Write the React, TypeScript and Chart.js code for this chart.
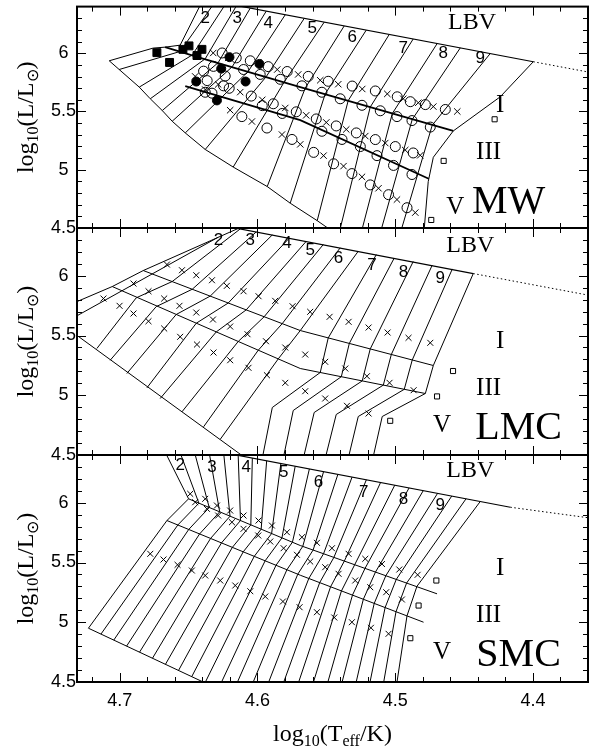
import React, { useEffect, useRef } from "react";
import { Chart, registerables } from "chart.js";

Chart.register(...registerables);

type Pt = [number, number];

// ---------------- axes ----------------
const X_MIN = 4.36;
const X_MAX = 4.731;
const Y_MIN = 4.5;
const Y_MAX = 6.4;
const xTickValues = [4.4, 4.5, 4.6, 4.7];
const xMinorValues = [4.38, 4.42, 4.44, 4.46, 4.48, 4.52, 4.54, 4.56, 4.58, 4.62, 4.64, 4.66, 4.68, 4.72];
const yTickValues = [4.5, 5, 5.5, 6];
const yMinorValues = [4.6, 4.7, 4.8, 4.9, 5.1, 5.2, 5.3, 5.4, 5.6, 5.7, 5.8, 5.9, 6.1, 6.2, 6.3];

const subtypeLabels = ["2", "3", "4", "5", "6", "7", "8", "9"];
const regionLabels = ["LBV", "I", "III", "V"];
const galaxyNames = ["MW", "LMC", "SMC"];

// ---------------- MW ----------------
const mwBoundary: Pt[][] = [
  [[4.7076, 5.935], [4.6757, 6.044], [4.667, 6.052], [4.6561, 6.069], [4.6401, 6.446]],
  [[4.7076, 5.935], [4.6858, 5.709], [4.6778, 5.609], [4.6691, 5.508], [4.6619, 5.416], [4.6524, 5.316], [4.6379, 5.174], [4.6176, 5.023], [4.5929, 4.856], [4.5762, 4.713], [4.5566, 4.563], [4.5362, 4.395]],
  [[4.3997, 5.927], [4.4237, 5.626], [4.4578, 5.333], [4.4723, 5.107], [4.476, 4.898], [4.4796, 4.395]],
];
const mwLbv: Pt[] = [[4.627, 6.436], [4.3997, 5.927]];
const mwLbvExt: Pt[] = [[4.3997, 5.927], [4.3583, 5.835]];
const mwClassLines: Pt[][] = [
  [[4.667, 6.052], [4.6415, 5.96], [4.5689, 5.709], [4.4578, 5.333]],
  [[4.6524, 5.718], [4.5689, 5.425], [4.4756, 4.923]],
];
const mwIsoLines: Pt[][] = [
  [[4.7004, 5.86], [4.6561, 6.015], [4.6304, 6.446]],
  [[4.6858, 5.709], [4.6473, 5.985], [4.6218, 6.446]],
  [[4.6778, 5.609], [4.6379, 5.952], [4.6133, 6.446]],
  [[4.6691, 5.508], [4.6285, 5.919], [4.6052, 6.387]],
  [[4.6619, 5.416], [4.6183, 5.884], [4.5936, 6.361]],
  [[4.6524, 5.316], [4.6067, 5.844], [4.5798, 6.33]],
  [[4.6379, 5.174], [4.5936, 5.799], [4.566, 6.299]],
  [[4.6176, 5.023], [4.5805, 5.754], [4.5515, 6.267]],
  [[4.5929, 4.856], [4.5653, 5.701], [4.537, 6.234]],
  [[4.5762, 4.713], [4.5508, 5.651], [4.521, 6.198]],
  [[4.5566, 4.563], [4.5341, 5.593], [4.5043, 6.161]],
  [[4.542, 4.395], [4.5181, 5.538], [4.4869, 6.122]],
  [[4.5261, 4.395], [4.5021, 5.482], [4.4695, 6.083]],
  [[4.5123, 4.395], [4.4876, 5.432], [4.4527, 6.046]],
  [[4.4978, 4.395], [4.4731, 5.382], [4.431, 5.997]],
];
const mwCrosses: Pt[] = [
  [4.6321, 6.002], [4.6212, 5.96], [4.5994, 5.918], [4.5856, 5.86], [4.5704, 5.818], [4.5544, 5.768], [4.5413, 5.734], [4.5239, 5.693], [4.5057, 5.651], [4.4941, 5.609], [4.4832, 5.575], [4.4723, 5.542], [4.4549, 5.5],
  [4.6452, 5.801], [4.6285, 5.732], [4.6125, 5.666], [4.5965, 5.6], [4.5798, 5.53], [4.5646, 5.467], [4.55, 5.406], [4.5355, 5.346], [4.5217, 5.289], [4.5072, 5.229], [4.4927, 5.169], [4.4818, 5.124],
  [4.6379, 5.688], [4.6198, 5.511], [4.604, 5.414], [4.5822, 5.302], [4.5689, 5.218], [4.552, 5.121], [4.5375, 5.031], [4.5241, 4.939], [4.5121, 4.841], [4.4987, 4.744], [4.4854, 4.632],
];
const mwOpenCircles: Pt[] = [
  [4.6256, 6.002], [4.6154, 5.96], [4.6052, 5.935], [4.5922, 5.885], [4.5784, 5.843], [4.5631, 5.801], [4.5486, 5.759], [4.5312, 5.718], [4.5144, 5.676], [4.4985, 5.626], [4.489, 5.584], [4.4781, 5.559], [4.4636, 5.517],
  [4.6365, 5.765], [4.6205, 5.699], [4.6045, 5.632], [4.5885, 5.566], [4.5718, 5.497], [4.5573, 5.436], [4.5428, 5.376], [4.5282, 5.316], [4.5144, 5.259], [4.4999, 5.199], [4.4869, 5.144],
  [4.633, 5.657], [4.6113, 5.456], [4.5931, 5.358], [4.5749, 5.26], [4.5592, 5.149], [4.5447, 5.051], [4.5314, 4.967], [4.5181, 4.87], [4.5048, 4.786], [4.4914, 4.674],
  [4.598, 5.818], [4.5834, 5.776], [4.5677, 5.72], [4.5532, 5.665], [4.5399, 5.609], [4.5241, 5.553], [4.5108, 5.506], [4.4987, 5.456], [4.4878, 5.422], [4.4745, 5.366],
  [4.5532, 5.33], [4.5386, 5.26], [4.5253, 5.199], [4.5132, 5.121], [4.5012, 5.037], [4.4878, 4.959], [4.582, 5.483], [4.5965, 5.55],
  [4.6391, 5.846], [4.6319, 5.887], [4.6234, 5.804], [4.6101, 5.86], [4.6379, 5.665], [4.6246, 5.72],
];
const mwFilledSquares: Pt[] = [[4.673, 6.005], [4.6638, 5.921], [4.6541, 6.033], [4.6497, 6.063], [4.6439, 5.98], [4.6403, 6.033]];
const mwFilledCircles: Pt[] = [[4.6203, 5.966], [4.6263, 5.868], [4.5985, 5.908], [4.6444, 5.757], [4.6086, 5.757], [4.6294, 5.595]];
const mwOpenSquares: Pt[] = [[4.4278, 5.433], [4.4648, 5.076], [4.4738, 4.569]];
const mwSubtypeX = [4.6379, 4.6147, 4.5922, 4.5602, 4.5312, 4.4941, 4.4651, 4.4382];
const mwSubtypeY = [6.303, 6.303, 6.253, 6.211, 6.136, 6.044, 6.002, 5.96];
const mwRegionX = [4.4442, 4.4237, 4.4322, 4.4564];
const mwRegionY = [6.264, 5.553, 5.149, 4.674];
const mwNamePos: Pt = [4.4176, 4.716];

// ---------------- LMC ----------------
const lmcBoundary: Pt[][] = [
  [[4.7359, 5.7594], [4.7309, 5.7845], [4.7054, 5.91], [4.6829, 6.0439], [4.6089, 6.4222]],
  [[4.7359, 5.5418], [4.6052, 4.4456]],
  [[4.4433, 6.0188], [4.4723, 5.249], [4.4781, 5.0147], [4.5094, 4.8222], [4.5159, 4.4874], [4.5166, 4.4456]],
];
const lmcLbv: Pt[] = [[4.6198, 6.408], [4.4433, 6.0188]];
const lmcLbvExt: Pt[] = [[4.4433, 6.0188], [4.3583, 5.8347]];
const lmcClassLines: Pt[][] = [
  [[4.6829, 6.0439], [4.5689, 5.5418], [4.4723, 5.249]],
  [[4.7054, 5.91], [4.5689, 5.2239], [4.4781, 5.0147]],
];
const lmcIsoLines: Pt[][] = [
  [[4.7359, 5.6339], [4.6285, 6.3226]],
  [[4.7166, 5.3912], [4.688, 5.8155], [4.6619, 5.9519], [4.6125, 6.3921]],
  [[4.7069, 5.2933], [4.6735, 5.7419], [4.6473, 5.8875], [4.6009, 6.367]],
  [[4.6948, 5.1821], [4.659, 5.6758], [4.6343, 5.8298], [4.5892, 6.3419]],
  [[4.6802, 5.0625], [4.6444, 5.603], [4.6212, 5.772], [4.5769, 6.3151]],
  [[4.6706, 4.9729], [4.6299, 5.5302], [4.6081, 5.7152], [4.5646, 6.2883]],
  [[4.6548, 4.8616], [4.6139, 5.4507], [4.5951, 5.6573], [4.5522, 6.2615]],
  [[4.6391, 4.7361], [4.5994, 5.3771], [4.582, 5.5996], [4.5399, 6.2339]],
  [[4.627, 4.6314], [4.5849, 5.3041], [4.5689, 5.5418], [4.5268, 6.2054]],
  [[4.5965, 4.4707], [4.5892, 4.8976], [4.5544, 5.1904], [4.5486, 5.4799], [4.5137, 6.177]],
  [[4.5813, 4.4707], [4.574, 4.8725], [4.5391, 5.1553], [4.5333, 5.4339], [4.5007, 6.1485]],
  [[4.5667, 4.4707], [4.5588, 4.8558], [4.5239, 5.1202], [4.5181, 5.3879], [4.4869, 6.1193]],
  [[4.5508, 4.4707], [4.5428, 4.839], [4.5086, 5.0851], [4.5028, 5.3412], [4.4731, 6.0892]],
  [[4.5341, 4.4707], [4.5268, 4.8222], [4.4934, 5.0498], [4.4876, 5.295], [4.4585, 6.0574]],
];
const lmcCrosses: Pt[] = [
  [4.6657, 6.0942], [4.6548, 6.0465], [4.6444, 6.0046], [4.633, 5.9628], [4.6222, 5.9159], [4.6101, 5.8707], [4.5992, 5.8289], [4.5871, 5.7904], [4.5745, 5.7452], [4.5617, 5.6984], [4.5476, 5.6565], [4.5338, 5.6147], [4.5193, 5.567], [4.5055, 5.5252], [4.4903, 5.4808], [4.4745, 5.439],
  [4.69, 5.9352], [4.6791, 5.8707], [4.6677, 5.8097], [4.6566, 5.7486], [4.6444, 5.6925], [4.6323, 5.6339], [4.6198, 5.5754], [4.6072, 5.5109], [4.5938, 5.4523], [4.5798, 5.3996], [4.5653, 5.341], [4.5508, 5.2799], [4.5362, 5.2238], [4.5205, 5.1594], [4.5041, 5.1042], [4.4866, 5.0422],
  [4.7118, 5.8097], [4.7001, 5.7486], [4.69, 5.6842], [4.6791, 5.6197], [4.6677, 5.5586], [4.6561, 5.4892], [4.6439, 5.4247], [4.6319, 5.3578], [4.6198, 5.2933], [4.6065, 5.2297], [4.5931, 5.1678], [4.5798, 5.1042], [4.5653, 5.0339], [4.5508, 4.9728], [4.535, 4.9117], [4.5193, 4.8473],
];
const lmcOpenSquares: Pt[] = [[4.458, 5.2029], [4.4696, 4.9904], [4.5036, 4.7862]];
const lmcSubtypeX = [4.6282, 4.6052, 4.5786, 4.5617, 4.5411, 4.5168, 4.4939, 4.4672];
const lmcSubtypeY = [6.2975, 6.2975, 6.2699, 6.2138, 6.1444, 6.0883, 6.0331, 5.977];
const lmcRegionX = [4.4455, 4.4237, 4.4322, 4.466];
const lmcRegionY = [6.2557, 5.4473, 5.0565, 4.7494];
const lmcNamePos: Pt = [4.4104, 4.7218];

// ---------------- SMC ----------------
const smcBoundary: Pt[][] = [
  [[4.7227, 4.9502], [4.6657, 5.8515], [4.65, 6.0331], [4.6677, 6.4406]],
  [[4.7227, 4.9502], [4.6306, 4.4523]],
  [[4.4382, 6.0113], [4.4842, 5.3008], [4.4914, 5.054], [4.4996, 4.4289]],
];
const smcLbv: Pt[] = [[4.6198, 6.4096], [4.4164, 5.9628]];
const smcLbvExt: Pt[] = [[4.4164, 5.9628], [4.3583, 5.8725]];
const smcClassLines: Pt[][] = [
  [[4.65, 6.0331], [4.5689, 5.6423], [4.4696, 5.2381]],
  [[4.6657, 5.8515], [4.5689, 5.3937], [4.4794, 5.0004]],
];
const smcIsoLines: Pt[][] = [
  [[4.7136, 4.901], [4.6578, 5.8141], [4.6425, 5.9967], [4.6567, 6.4372]],
  [[4.7043, 4.8507], [4.6499, 5.7766], [4.635, 5.9604], [4.646, 6.4372]],
  [[4.695, 4.8004], [4.642, 5.7392], [4.6274, 5.9241], [4.6353, 6.4372]],
  [[4.6856, 4.7497], [4.634, 5.7018], [4.6199, 5.8878], [4.6247, 6.4372]],
  [[4.6762, 4.6988], [4.6261, 5.6643], [4.6123, 5.8515], [4.6141, 6.4372]],
  [[4.6668, 4.6477], [4.6182, 5.627], [4.6048, 5.8152], [4.6037, 6.3736]],
  [[4.6573, 4.5962], [4.6103, 5.5895], [4.5973, 5.7788], [4.5933, 6.351]],
  [[4.6477, 4.5446], [4.6023, 5.5521], [4.5897, 5.7426], [4.583, 6.3283]],
  [[4.6408, 4.4289], [4.5944, 5.5147], [4.5822, 5.7062], [4.5726, 6.3056]],
  [[4.6289, 4.4289], [4.5865, 5.4772], [4.5746, 5.6699], [4.5623, 6.283]],
  [[4.6172, 4.4289], [4.5786, 5.4398], [4.5671, 5.6349], [4.552, 6.2603]],
  [[4.6056, 4.4289], [4.5707, 5.4024], [4.5596, 5.6042], [4.5416, 6.2378]],
  [[4.5942, 4.4289], [4.5627, 5.3665], [4.552, 5.5736], [4.5313, 6.2151]],
  [[4.5831, 4.4289], [4.5548, 5.3318], [4.5445, 5.5429], [4.5209, 6.1925]],
  [[4.5721, 4.4289], [4.5469, 5.297], [4.5369, 5.5122], [4.5106, 6.1698]],
  [[4.5612, 4.4289], [4.539, 5.2622], [4.5294, 5.4815], [4.5003, 6.1472]],
  [[4.5506, 4.4289], [4.531, 5.2275], [4.5219, 5.4509], [4.4899, 6.1245]],
  [[4.5401, 4.4289], [4.5231, 5.1926], [4.5143, 5.4202], [4.4796, 6.1019]],
  [[4.5297, 4.4289], [4.5152, 5.1579], [4.5068, 5.3895], [4.4692, 6.0793]],
  [[4.5195, 4.4289], [4.5073, 5.1231], [4.4992, 5.3588], [4.4589, 6.0566]],
  [[4.5094, 4.4289], [4.4994, 5.0883], [4.4917, 5.3282], [4.4485, 6.034]],
];
const smcCrosses: Pt[] = [
  [4.6488, 6.0749], [4.6379, 6.0331], [4.6294, 5.977], [4.6198, 5.9352], [4.6101, 5.8934], [4.5992, 5.8515], [4.5895, 5.8097], [4.5786, 5.7536], [4.5677, 5.7118], [4.5568, 5.6649], [4.5459, 5.6197], [4.5338, 5.5729], [4.5217, 5.531], [4.5096, 5.4875], [4.497, 5.4415], [4.4837, 5.3971],
  [4.6452, 6.0047], [4.6367, 5.9495], [4.6285, 5.8934], [4.6185, 5.8374], [4.6101, 5.7821], [4.5994, 5.7261], [4.5907, 5.6759], [4.581, 5.6198], [4.5713, 5.5646], [4.5617, 5.5085], [4.5508, 5.4608], [4.5411, 5.4056], [4.529, 5.3495], [4.5181, 5.2934], [4.5065, 5.2516], [4.4951, 5.1905],
  [4.6778, 5.5729], [4.6682, 5.5252], [4.658, 5.4808], [4.6476, 5.4331], [4.6379, 5.3913], [4.627, 5.3495], [4.6161, 5.3076], [4.6052, 5.2599], [4.5943, 5.2155], [4.5815, 5.1737], [4.5694, 5.126], [4.5568, 5.0842], [4.5442, 5.0398], [4.5314, 5.0005], [4.5176, 4.9536], [4.5048, 4.9034],
];
const smcOpenSquares: Pt[] = [[4.4701, 5.3493], [4.483, 5.14], [4.489, 4.8665]];
const smcSubtypeX = [4.6561, 4.633, 4.6081, 4.581, 4.5556, 4.5229, 4.4939, 4.4672];
const smcSubtypeY = [6.3117, 6.2975, 6.2975, 6.2557, 6.172, 6.0883, 6.0331, 5.9829];
const smcRegionX = [4.4455, 4.4237, 4.4322, 4.466];
const smcRegionY = [6.2699, 5.4473, 5.0565, 4.7494];
const smcNamePos: Pt = [4.4104, 4.7218];

// ---------------- assembly ----------------
const panels = [
  { name: galaxyNames[0], boundary: mwBoundary, lbv: mwLbv, lbvExt: mwLbvExt, classLines: mwClassLines, iso: mwIsoLines, crosses: mwCrosses, openCircles: mwOpenCircles, filledSquares: mwFilledSquares, filledCircles: mwFilledCircles, openSquares: mwOpenSquares, subX: mwSubtypeX, subY: mwSubtypeY, regionX: mwRegionX, regionY: mwRegionY, namePos: mwNamePos, classWidth: 1.8, crossR: 4.5 },
  { name: galaxyNames[1], boundary: lmcBoundary, lbv: lmcLbv, lbvExt: lmcLbvExt, classLines: lmcClassLines, iso: lmcIsoLines, crosses: lmcCrosses, openCircles: [] as Pt[], filledSquares: [] as Pt[], filledCircles: [] as Pt[], openSquares: lmcOpenSquares, subX: lmcSubtypeX, subY: lmcSubtypeY, regionX: lmcRegionX, regionY: lmcRegionY, namePos: lmcNamePos, classWidth: 1, crossR: 4.2 },
  { name: galaxyNames[2], boundary: smcBoundary, lbv: smcLbv, lbvExt: smcLbvExt, classLines: smcClassLines, iso: smcIsoLines, crosses: smcCrosses, openCircles: [] as Pt[], filledSquares: [] as Pt[], filledCircles: [] as Pt[], openSquares: smcOpenSquares, subX: smcSubtypeX, subY: smcSubtypeY, regionX: smcRegionX, regionY: smcRegionY, namePos: smcNamePos, classWidth: 1, crossR: 4.2 },
];

const CANVAS_W = 599;
const PAGE_H = 747;
const AREA_LEFT = 77;
const AREA_RIGHT = 588;
const PANEL_TOPS = [1, 228, 455];
const PANEL_BOTTOMS = [228, 455, 682];
const SANS = '"Liberation Sans", Arial, Helvetica, sans-serif';
const SERIF = '"Liberation Serif", "Times New Roman", serif';

function geometry(k: number) {
  const isLast = k === 2;
  const top = k === 0 ? 0 : PANEL_TOPS[k] - 14;
  const height = isLast ? PAGE_H - top : PANEL_BOTTOMS[k] + 14 - top;
  return { isLast, top, height, padTop: PANEL_TOPS[k] - top, padBottom: isLast ? 0 : 14, xAxisH: PAGE_H - PANEL_BOTTOMS[2] };
}

function toXY(pts: Pt[]) {
  return pts.map(([x, y]) => ({ x, y }));
}

function buildDatasets(p: any) {
  const ds: any[] = [];
  const line = (pts: Pt[], width: number, dash: number[] = []) => ({
    data: toXY(pts),
    showLine: true,
    borderColor: "#000",
    backgroundColor: "#000",
    borderWidth: width,
    borderDash: dash,
    pointRadius: 0,
    pointHoverRadius: 0,
    tension: 0,
    fill: false,
    order: 2,
  });
  const marker = (pts: Pt[], style: string, r: number, fill: string) => ({
    data: toXY(pts),
    showLine: false,
    pointStyle: style,
    pointRadius: r,
    pointHoverRadius: r,
    pointBackgroundColor: fill,
    backgroundColor: fill,
    pointBorderColor: "#000",
    borderColor: "#000",
    pointBorderWidth: 1,
    borderWidth: 1,
    order: 0,
  });
  p.boundary.forEach((l: Pt[]) => ds.push(line(l, 1)));
  p.iso.forEach((l: Pt[]) => ds.push(line(l, 1)));
  p.classLines.forEach((l: Pt[]) => ds.push(line(l, p.classWidth)));
  ds.push(line(p.lbv, 1.2));
  ds.push(line(p.lbvExt, 1, [1.5, 2.5]));
  ds.push(marker(p.crosses, "crossRot", p.crossR, "#000"));
  ds.push(marker(p.openCircles, "circle", 5, "rgba(0,0,0,0)"));
  ds.push(marker(p.filledSquares, "rect", 5.6, "#000"));
  ds.push(marker(p.filledCircles, "circle", 4.5, "#000"));
  ds.push(marker(p.openSquares, "rect", 3.6, "#fff"));
  return ds;
}

function drawRich(ctx: CanvasRenderingContext2D, parts: [string, boolean][], cx: number, cy: number, rotate: boolean) {
  const big = `24px ${SERIF}`;
  const small = `16px ${SERIF}`;
  let total = 0;
  const widths = parts.map(([t, sub]) => {
    ctx.font = sub ? small : big;
    const w = ctx.measureText(t).width;
    total += w;
    return w;
  });
  ctx.save();
  ctx.translate(cx, cy);
  if (rotate) ctx.rotate(-Math.PI / 2);
  ctx.textAlign = "left";
  ctx.textBaseline = "alphabetic";
  ctx.fillStyle = "#000";
  let x = -total / 2;
  parts.forEach(([t, sub], i) => {
    ctx.font = sub ? small : big;
    ctx.fillText(t, x, sub ? 13 : 8);
    x += widths[i];
  });
  ctx.restore();
}

function makePlugin(p: any, k: number, g: any) {
  return {
    id: "decor" + k,
    afterDatasetsDraw(chart: any) {
      const { ctx, scales } = chart;
      const xs = scales.x;
      const ys = scales.y;
      ctx.save();
      ctx.fillStyle = "#000";
      ctx.textAlign = "center";
      ctx.textBaseline = "middle";
      ctx.font = `17px ${SANS}`;
      subtypeLabels.forEach((t, i) => ctx.fillText(t, xs.getPixelForValue(p.subX[i]), ys.getPixelForValue(p.subY[i])));
      regionLabels.forEach((t, i) => {
        ctx.font = i === 0 ? `24px ${SERIF}` : `25px ${SERIF}`;
        ctx.fillText(t, xs.getPixelForValue(p.regionX[i]), ys.getPixelForValue(p.regionY[i]));
      });
      ctx.font = `40px ${SERIF}`;
      ctx.fillText(p.name, xs.getPixelForValue(p.namePos[0]), ys.getPixelForValue(p.namePos[1]));
      ctx.restore();
    },
    afterDraw(chart: any) {
      const { ctx, chartArea: a, scales } = chart;
      const xs = scales.x;
      const ys = scales.y;
      ctx.save();
      ctx.strokeStyle = "#000";
      ctx.lineWidth = 1;
      ctx.beginPath();
      const yTicks = [...yTickValues.map((v) => [v, 9]), ...yMinorValues.map((v) => [v, 5])];
      yTicks.forEach(([v, len]) => {
        const py = Math.round(ys.getPixelForValue(v)) + 0.5;
        ctx.moveTo(a.left, py);
        ctx.lineTo(a.left + len, py);
        ctx.moveTo(a.right, py);
        ctx.lineTo(a.right - len, py);
      });
      const xTicks = [...xTickValues.map((v) => [v, 9]), ...xMinorValues.map((v) => [v, 5])];
      xTicks.forEach(([v, len]) => {
        const px = Math.round(xs.getPixelForValue(v)) + 0.5;
        ctx.moveTo(px, a.bottom);
        ctx.lineTo(px, a.bottom - len);
        ctx.moveTo(px, a.top);
        ctx.lineTo(px, a.top + len);
      });
      ctx.stroke();
      ctx.lineWidth = 2;
      ctx.strokeRect(a.left, a.top, a.right - a.left, a.bottom - a.top);
      ctx.restore();
      drawRich(ctx, [["log", false], ["10", true], ["(L/L", false], ["\u2299", true], [")", false]], 25, (a.top + a.bottom) / 2, true);
      if (g.isLast) {
        drawRich(ctx, [["log", false], ["10", true], ["(T", false], ["eff", true], ["/K)", false]], (a.left + a.right) / 2, 733 - g.top, false);
      }
    },
  };
}

function buildConfig(k: number) {
  const p = panels[k];
  const g = geometry(k);
  return {
    type: "scatter",
    data: { datasets: buildDatasets(p) },
    options: {
      animation: false,
      responsive: false,
      maintainAspectRatio: false,
      devicePixelRatio: 1,
      events: [],
      layout: { padding: { left: 0, right: CANVAS_W - AREA_RIGHT, top: g.padTop, bottom: g.padBottom } },
      plugins: { legend: { display: false }, tooltip: { enabled: false }, title: { display: false } },
      scales: {
        x: {
          type: "linear",
          reverse: true,
          min: X_MIN,
          max: X_MAX,
          display: g.isLast,
          grid: { display: false, drawTicks: false },
          border: { display: false },
          ticks: {
            color: "#000",
            font: { family: SANS, size: 18 },
            padding: 8,
            maxRotation: 0,
            autoSkip: false,
            callback: (v: number) => String(v),
          },
          afterBuildTicks: (s: any) => {
            s.ticks = xTickValues.map((value) => ({ value }));
          },
          afterFit: (s: any) => {
            if (g.isLast) s.height = g.xAxisH;
            s.paddingLeft = 0;
            s.paddingRight = 0;
          },
        },
        y: {
          type: "linear",
          min: Y_MIN,
          max: Y_MAX,
          grid: { display: false, drawTicks: false },
          border: { display: false },
          ticks: {
            color: "#000",
            font: { family: SANS, size: 18 },
            padding: 1,
            crossAlign: "center",
            callback: (v: number) => String(v),
          },
          afterBuildTicks: (s: any) => {
            s.ticks = yTickValues.map((value) => ({ value }));
          },
          afterFit: (s: any) => {
            s.width = AREA_LEFT;
            s.paddingTop = 0;
            s.paddingBottom = 0;
          },
        },
      },
    },
    plugins: [makePlugin(p, k, g)],
  };
}

function PanelCanvas({ k }: { k: number }) {
  const ref = useRef<HTMLCanvasElement | null>(null);
  const g = geometry(k);
  useEffect(() => {
    if (!ref.current) return;
    const chart = new Chart(ref.current, buildConfig(k) as any);
    return () => chart.destroy();
  }, [k]);
  return (
    <canvas
      ref={ref}
      width={CANVAS_W}
      height={g.height}
      style={{ position: "absolute", left: 0, top: g.top, width: CANVAS_W, height: g.height }}
    />
  );
}

export default function App() {
  return (
    <div style={{ position: "fixed", left: 0, top: 0, width: CANVAS_W, height: PAGE_H, background: "#fff", overflow: "hidden" }}>
      {[0, 1, 2].map((k) => (
        <PanelCanvas key={k} k={k} />
      ))}
    </div>
  );
}
